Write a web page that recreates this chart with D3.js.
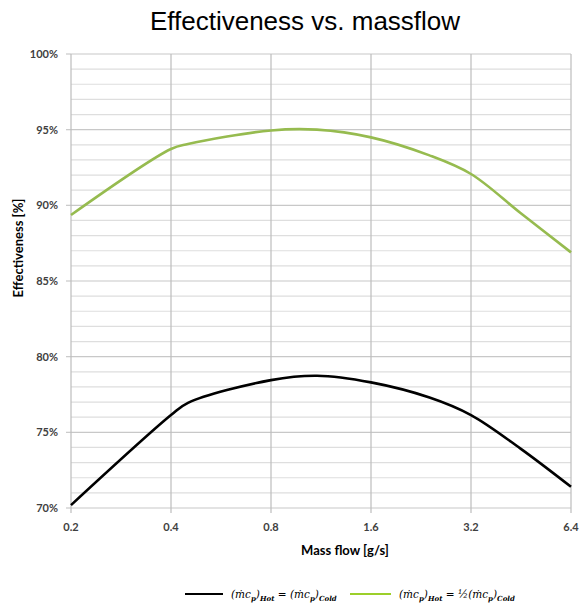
<!DOCTYPE html>
<html>
<head>
<meta charset="utf-8">
<script src="https://cdn.jsdelivr.net/npm/d3@7"></script>
<style>
  body { margin: 0; background: #fff; }
  svg { display: block; }
</style>
</head>
<body>
<div id="chart"></div>
<script>
// mass flow values [g/s] and effectiveness [%]
const massFlow = [0.2, 0.4, 0.45, 0.8, 1.1, 1.6, 2.4, 3.2, 4.5, 6.4];
const effEqual = [70.19, 76.14, 76.95, 78.45, 78.74, 78.3, 77.3, 76.14, 73.94, 71.4];
const effHalf = [89.36, 93.72, 94.05, 94.95, 95.0, 94.49, 93.3, 92.07, 89.51, 86.89];
const xTicks = [0.2, 0.4, 0.8, 1.6, 3.2, 6.4];
const yMajor = [70, 75, 80, 85, 90, 95, 100];
const yMinor = d3.range(70, 101, 1);

const width = 588, height = 605;
const margin = { top: 54, right: 17, bottom: 97, left: 71 };

const svg = d3.select("#chart").append("svg")
  .attr("width", width)
  .attr("height", height);

const xScale = d3.scaleLog().base(2)
  .domain([0.2, 6.4])
  .range([margin.left, width - margin.right]);

const yScale = d3.scaleLinear()
  .domain([70, 100])
  .range([height - margin.bottom, margin.top]);

// title
svg.append("text")
  .attr("x", 305).attr("y", 30)
  .attr("text-anchor", "middle")
  .style("font-family", "Liberation Sans, Arial, sans-serif")
  .style("font-size", "26px")
  .attr("fill", "#000")
  .text("Effectiveness vs. massflow");

// minor horizontal grid (1%)
svg.append("g").selectAll("line")
  .data(yMinor)
  .enter().append("line")
  .attr("x1", margin.left).attr("x2", width - margin.right)
  .attr("y1", d => yScale(d)).attr("y2", d => yScale(d))
  .attr("stroke", d => d % 5 === 0 ? "#c8c8c8" : "#dedede")
  .attr("stroke-width", 1.2);

// major tick stubs on the y axis
svg.append("g").selectAll("line")
  .data(yMajor)
  .enter().append("line")
  .attr("x1", margin.left - 5).attr("x2", margin.left)
  .attr("y1", d => yScale(d)).attr("y2", d => yScale(d))
  .attr("stroke", "#c8c8c8").attr("stroke-width", 1.2);

// vertical grid
svg.append("g").selectAll("line")
  .data(xTicks)
  .enter().append("line")
  .attr("x1", d => xScale(d)).attr("x2", d => xScale(d))
  .attr("y1", margin.top).attr("y2", height - margin.bottom + 5)
  .attr("stroke", "#bdbdbd").attr("stroke-width", 1.2);

const tickFont = "Lato, 'Open Sans', sans-serif";

// y tick labels
svg.append("g").selectAll("text")
  .data(yMajor)
  .enter().append("text")
  .attr("x", margin.left - 13)
  .attr("y", d => yScale(d) + 4)
  .attr("text-anchor", "end")
  .style("font-family", tickFont)
  .style("font-size", "11px")
  .style("font-weight", "bold")
  .attr("fill", "#404040")
  .text(d => d + "%");

// x tick labels
svg.append("g").selectAll("text")
  .data(xTicks)
  .enter().append("text")
  .attr("x", d => xScale(d))
  .attr("y", height - margin.bottom + 23)
  .attr("text-anchor", "middle")
  .style("font-family", tickFont)
  .style("font-size", "11px")
  .style("font-weight", "bold")
  .attr("fill", "#404040")
  .text(d => d);

// axis titles
svg.append("text")
  .attr("x", 345).attr("y", 555)
  .attr("text-anchor", "middle")
  .style("font-family", tickFont)
  .style("font-size", "13px")
  .style("font-weight", "bold")
  .attr("fill", "#000")
  .text("Mass flow [g/s]");

svg.append("text")
  .attr("transform", "translate(23,248) rotate(-90)")
  .attr("text-anchor", "middle")
  .style("font-family", tickFont)
  .style("font-size", "13px")
  .style("font-weight", "bold")
  .attr("fill", "#000")
  .text("Effectiveness [%]");

// curves
const line = d3.line()
  .x(d => xScale(d[0]))
  .y(d => yScale(d[1]))
  .curve(d3.curveCatmullRom.alpha(0.5));

const series = [
  { values: effHalf, color: "#96bb4f" },
  { values: effEqual, color: "#000000" }
];

series.forEach(s => {
  svg.append("path")
    .datum(massFlow.map((m, i) => [m, s.values[i]]))
    .attr("fill", "none")
    .attr("stroke", s.color)
    .attr("stroke-width", 2.6)
    .attr("stroke-linejoin", "round")
    .attr("d", line);
});

// legend
const legY = 594;
const legFont = "'DejaVu Serif', 'Liberation Serif', serif";

function addLegendText(x, parts) {
  const t = svg.append("text")
    .attr("x", x).attr("y", legY + 4)
    .style("font-family", legFont)
    .style("font-size", "10.5px")
    .style("font-style", "italic")
    .attr("fill", "#000");
  parts.forEach(p => {
    const ts = t.append("tspan").text(p.t);
    if (p.sub) {
      ts.attr("dy", 3).style("font-size", "7px").style("font-weight", "bold");
    } else if (p.back) {
      ts.attr("dy", -3);
    }
  });
}

svg.append("line")
  .attr("x1", 185).attr("x2", 223)
  .attr("y1", legY).attr("y2", legY)
  .attr("stroke", "#000").attr("stroke-width", 2);
addLegendText(231, [
  { t: "(ṁc" }, { t: "p", sub: true }, { t: ")", back: true }, { t: "Hot", sub: true },
  { t: " = (ṁc", back: true }, { t: "p", sub: true }, { t: ")", back: true }, { t: "Cold", sub: true }
]);

svg.append("line")
  .attr("x1", 350).attr("x2", 391)
  .attr("y1", legY).attr("y2", legY)
  .attr("stroke", "#9ccf2a").attr("stroke-width", 2);
addLegendText(399, [
  { t: "(ṁc" }, { t: "p", sub: true }, { t: ")", back: true }, { t: "Hot", sub: true },
  { t: " = ½(ṁc", back: true }, { t: "p", sub: true }, { t: ")", back: true }, { t: "Cold", sub: true }
]);
</script>
</body>
</html>
